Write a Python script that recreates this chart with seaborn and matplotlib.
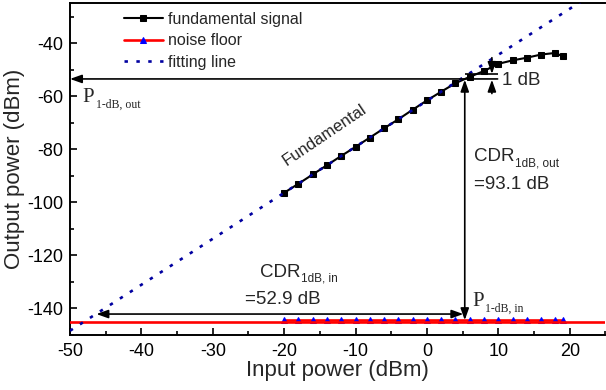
import matplotlib
matplotlib.use("Agg")
import matplotlib.pyplot as plt
from matplotlib.ticker import MultipleLocator
import seaborn as sns

# Input power sweep (dBm)
input_power = [-20, -18, -16, -14, -12, -10, -8, -6, -4, -2, 0,
               2, 4, 6, 8, 10, 12, 14, 16, 18, 19]

# Measured fundamental output (dBm)
fundamental = [-96.4, -93.0, -89.5, -86.0, -82.5, -79.1, -75.6, -72.1, -68.7, -65.1, -61.6,
               -58.3, -55.1, -52.7, -50.5, -47.8, -46.5, -45.5, -44.3, -43.7, -45.0]

# Noise floor (dBm)
noise_floor = [-144.3, -144.3, -144.3, -144.3, -144.3, -144.3, -144.3, -144.3, -144.3, -144.3, -144.3,
               -144.3, -144.3, -144.3, -144.3, -144.3, -144.3, -144.3, -144.3, -144.3, -144.3]
noise_level = -145.0

# Linear fit of the fundamental (end points)
fit_x = [-50, 25]
fit_y = [-148.4, -18.4]

# 1 dB compression point values
p1db_in = 5.3
p1db_out = -53.5
cdr_level = -142.1
cdr_start = -46.3

sns.set_theme(style="ticks")
plt.rcParams["font.family"] = ["Liberation Sans", "DejaVu Sans"]
plt.rcParams["axes.unicode_minus"] = False

fig, ax = plt.subplots(figsize=(6.06, 3.9), dpi=100)
fig.subplots_adjust(left=0.1155, right=0.999, top=0.9915, bottom=0.141)

# red noise floor line across the whole axis
ax.axhline(noise_level, color="red", lw=1.9, zorder=3)

sns.lineplot(x=input_power, y=fundamental, ax=ax, color="black", lw=1.5,
             marker="s", markersize=4.3, markeredgecolor="black",
             label="fundamental signal", zorder=4)
sns.lineplot(x=input_power, y=noise_floor, ax=ax, color="red", lw=1.9,
             marker="^", markersize=5, markerfacecolor="blue", markeredgecolor="blue",
             label="noise floor", zorder=2)
sns.lineplot(x=fit_x, y=fit_y, ax=ax, color="#0000a0", lw=1.9,
             linestyle=(0, (1.3, 3.2)), label="fitting line", zorder=5)

ax.set_xlim(-50, 25)
ax.set_ylim(-150, -25)
ax.xaxis.set_major_locator(MultipleLocator(10))
ax.xaxis.set_minor_locator(MultipleLocator(5))
ax.yaxis.set_major_locator(MultipleLocator(20))
ax.yaxis.set_minor_locator(MultipleLocator(10))
ax.tick_params(which="both", direction="in", colors="black", width=1.2)
ax.tick_params(which="major", length=5, labelsize=13)
ax.tick_params(axis="x", which="major", pad=6)
ax.tick_params(axis="y", which="major", pad=5)
ax.tick_params(which="minor", length=3)
for side in ["left", "bottom", "top"]:
    ax.spines[side].set_visible(True)
    ax.spines[side].set_linewidth(1.4)
    ax.spines[side].set_color("black")
ax.spines["right"].set_visible(False)

ax.set_xlabel("Input power (dBm)", fontsize=16, va="center")
ax.set_ylabel("Output power (dBm)", fontsize=16, va="center")
ax.xaxis.set_label_coords(0.5, -0.107)
ax.yaxis.set_label_coords(-0.104, 0.5)

ax.legend(loc="upper left", bbox_to_anchor=(0.1, 0.975), frameon=False,
          fontsize=11.5, handlelength=2.5, handletextpad=0.3,
          labelspacing=0.42, borderpad=0, borderaxespad=0)

# annotation arrows
arrow = dict(arrowstyle="-|>,head_length=0.7,head_width=0.25", color="black",
             lw=1.2, shrinkA=0, shrinkB=0, mutation_scale=10)
arrow2 = dict(arrowstyle="<|-|>,head_length=0.7,head_width=0.25", color="black",
              lw=1.2, shrinkA=0, shrinkB=0, mutation_scale=10)
ax.annotate("", xy=(-50, p1db_out), xytext=(9.9, p1db_out), arrowprops=arrow, zorder=6)
ax.annotate("", xy=(p1db_in, p1db_out - 0.3), xytext=(p1db_in, noise_level + 0.6),
            arrowprops=arrow2, zorder=6)
ax.annotate("", xy=(cdr_start, cdr_level), xytext=(p1db_in - 0.2, cdr_level),
            arrowprops=arrow2, zorder=6)
ax.hlines(p1db_out + 1.7, p1db_in, 9.9, color="black", lw=1.2, zorder=6)
ax.annotate("", xy=(9.1, p1db_out + 1.9), xytext=(9.1, p1db_out + 8),
            arrowprops=arrow, zorder=6)
ax.annotate("", xy=(9.1, p1db_out - 0.3), xytext=(9.1, p1db_out - 5.5),
            arrowprops=arrow, zorder=6)


def with_sub(x, y, main, sub, size, sub_size, family=None, drop=-1.5, gap=0.5):
    kw = {} if family is None else {"family": family}
    t = ax.text(x, y, main, fontsize=size, va="baseline", **kw)
    ax.annotate(sub, xy=(1, 0), xycoords=t, xytext=(gap, drop),
                textcoords="offset points", fontsize=sub_size, va="baseline", **kw)
    return t


serif = ["Liberation Serif", "DejaVu Serif"]
with_sub(-48.2, -62.2, "P", "1-dB, out", 15, 8.5, serif, drop=-0.8, gap=0.8)
with_sub(6.35, -139.2, "P", "1-dB, in", 15, 8.5, serif, drop=-0.6, gap=0.8)

ax.text(-14.4, -74.6, "Fundamental", fontsize=12, rotation=34,
        ha="center", va="center", rotation_mode="anchor")

with_sub(6.6, -84.6, "CDR", "1dB, out", 13.5, 8.5, drop=-0.6)
ax.text(6.6, -95.0, "=93.1 dB", fontsize=13.5, va="baseline")

with_sub(-23.4, -128.1, "CDR", "1dB, in", 13.5, 8.5, drop=-0.6)
ax.text(-25.5, -138.4, "=52.9 dB", fontsize=13.5, va="baseline")

ax.text(10.5, -55.9, "1 dB", fontsize=13.5, va="baseline")

fig.savefig("out.png", dpi=100)
